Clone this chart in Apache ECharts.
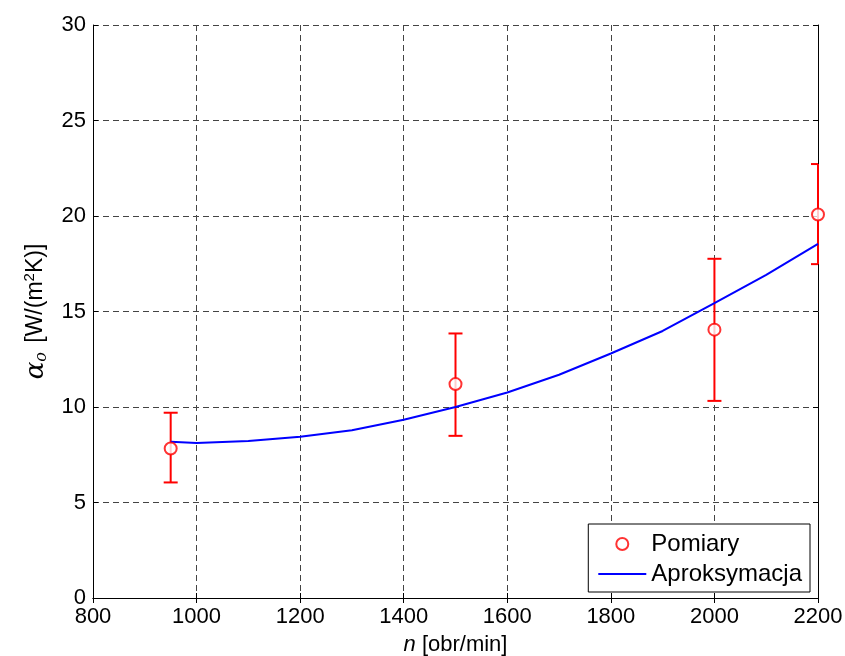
<!DOCTYPE html>
<html>
<head>
<meta charset="utf-8">
<script src="https://cdn.jsdelivr.net/npm/echarts@6/dist/echarts.min.js"></script>
<style>
html,body{margin:0;padding:0;background:#fff;}
#chart{width:845px;height:656px;}
</style>
</head>
<body>
<div id="chart"></div>
<script>
// Measurements (Pomiary)
const measN     = [950, 1500, 2000, 2200];
const measAlpha = [7.83, 11.2, 14.05, 20.08];
const errLow    = [6.05, 8.49, 10.32, 17.48];
const errHigh   = [9.70, 13.85, 17.76, 22.72];
// Approximation (Aproksymacja)
const approxN     = [950, 1000, 1100, 1200, 1300, 1400, 1500, 1600, 1700, 1800, 1900, 2000, 2100, 2200];
const approxAlpha = [8.18, 8.12, 8.22, 8.44, 8.78, 9.33, 10.0, 10.76, 11.69, 12.8, 13.98, 15.44, 16.92, 18.54];
// Axis ticks
const xTicks = [800, 1000, 1200, 1400, 1600, 1800, 2000, 2200];
const yTicks = [0, 5, 10, 15, 20, 25, 30];

const FONT = 'Liberation Sans, Arial, Helvetica, sans-serif';
const chart = echarts.init(document.getElementById('chart'), null, {renderer: 'canvas'});

const gridLine = {show: true, lineStyle: {color: '#444', width: 1, type: [6, 4]}};
const boxLine = {show: true, lineStyle: {color: '#000', width: 1}};
const tick = {show: true, inside: true, length: 5, lineStyle: {color: '#000'}};

const option = {
  backgroundColor: '#fff',
  animation: false,
  grid: {left: 93, right: 27, top: 25, bottom: 58, containLabel: false, outerBoundsMode: 'none'},
  legend: {
    right: 35, top: 524,
    orient: 'vertical',
    backgroundColor: '#fff',
    borderColor: '#000', borderWidth: 1, borderRadius: 0,
    padding: [8, 8, 6, 10],
    itemWidth: 48, itemHeight: 12, itemGap: 6,
    textStyle: {fontFamily: FONT, fontSize: 24, color: '#000'},
    data: [
      {name: 'Pomiary', icon: 'circle', itemStyle: {color: '#fff', borderColor: '#ff0000', borderWidth: 2}},
      {name: 'Aproksymacja', icon: 'path://M0,0 L48,0 L48,2 L0,2 Z', itemStyle: {color: '#0000ff', borderWidth: 0}}
    ]
  },
  xAxis: [{
    type: 'value', min: xTicks[0], max: xTicks[xTicks.length - 1], interval: 200,
    axisLine: boxLine,
    axisTick: tick,
    axisLabel: {fontFamily: FONT, fontSize: 22, color: '#000', margin: 8, formatter: v => String(v)},
    splitLine: gridLine,
    name: '{i|n} [obr/min]',
    nameLocation: 'middle', nameGap: 36,
    nameTextStyle: {fontFamily: FONT, fontSize: 22, color: '#000',
      rich: {i: {fontFamily: FONT, fontStyle: 'italic', fontSize: 22, color: '#000'}}}
  }, {
    type: 'value', position: 'top', min: xTicks[0], max: xTicks[xTicks.length - 1], interval: 200,
    axisLine: boxLine,
    axisTick: tick,
    axisLabel: {show: false}, splitLine: {show: false}
  }],
  yAxis: [{
    type: 'value', min: yTicks[0], max: yTicks[yTicks.length - 1], interval: 5,
    axisLine: boxLine,
    axisTick: tick,
    axisLabel: {fontFamily: FONT, fontSize: 22, color: '#000', margin: 7},
    splitLine: gridLine,
    name: '{a|α}{s|o} [W/(m{p|2}K)]',
    nameLocation: 'middle', nameGap: 43, nameRotate: 90,
    nameTextStyle: {
      fontFamily: FONT, fontSize: 23, color: '#000',
      rich: {
        a: {fontFamily: 'DejaVu Serif', fontStyle: 'italic', fontSize: 26, color: '#000'},
        s: {fontFamily: 'DejaVu Serif', fontStyle: 'italic', fontSize: 16, color: '#000', padding: [12, 3, 0, 0]},
        p: {fontFamily: FONT, fontSize: 15, color: '#000', padding: [0, 0, 12, 0]}
      }
    }
  }, {
    type: 'value', position: 'right', min: yTicks[0], max: yTicks[yTicks.length - 1], interval: 5,
    axisLine: boxLine,
    axisTick: tick,
    axisLabel: {show: false}, splitLine: {show: false}
  }],
  series: [
    {
      name: 'Błąd',
      type: 'custom',
      clip: false,
      data: measN.map((n, i) => [n, errLow[i], errHigh[i]]),
      renderItem: function (params, api) {
        const x = api.value(0);
        const lo = api.coord([x, api.value(1)]);
        const hi = api.coord([x, api.value(2)]);
        const cs = params.coordSys;
        const w = 7;
        const xl = Math.max(lo[0] - w, cs.x);
        const xr = Math.min(lo[0] + w, cs.x + cs.width);
        const st = {stroke: '#ff0000', lineWidth: 2};
        return {
          type: 'group',
          children: [
            {type: 'line', shape: {x1: lo[0], y1: lo[1], x2: hi[0], y2: hi[1]}, style: st},
            {type: 'line', shape: {x1: xl, y1: lo[1], x2: xr, y2: lo[1]}, style: st},
            {type: 'line', shape: {x1: xl, y1: hi[1], x2: xr, y2: hi[1]}, style: st}
          ]
        };
      },
      z: 3
    },
    {
      name: 'Aproksymacja',
      type: 'line',
      data: approxN.map((n, i) => [n, approxAlpha[i]]),
      symbol: 'none', showSymbol: false,
      lineStyle: {color: '#0000ff', width: 2},
      itemStyle: {color: '#0000ff'},
      z: 4
    },
    {
      name: 'Pomiary',
      type: 'scatter',
      data: measN.map((n, i) => [n, measAlpha[i]]),
      symbol: 'emptyCircle', symbolSize: 12,
      itemStyle: {color: '#ff0000', borderColor: '#ff0000', borderWidth: 2},
      clip: false,
      z: 5
    }
  ]
};
chart.setOption(option);
</script>
</body>
</html>
